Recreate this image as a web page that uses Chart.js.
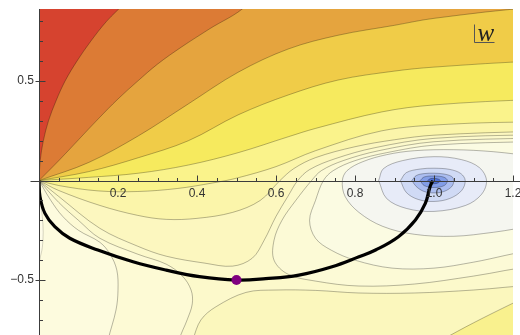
<!DOCTYPE html>
<html>
<head>
<meta charset="utf-8">
<script src="https://cdn.jsdelivr.net/npm/chart.js@4.4.1/dist/chart.umd.min.js"></script>
<style>
  html, body { margin: 0; padding: 0; background: #fff; }
  canvas { display: block; }
</style>
</head>
<body>
<canvas id="plot" width="520" height="335"></canvas>
<script>
// Contour plot of |f(w)| in the w-plane with the descent path through the saddle

const xRange = [0, 1.2];
const yRange = [-0.776, 0.862];
const xTickLabels = [0.2, 0.4, 0.6, 0.8, 1.0, 1.2];
const yTickLabels = [-0.5, 0.5];

// level lines fanning out of the origin (highest first)
const lineA = [[0,0],[0.003,0.1],[0.011,0.2],[0.024,0.3],[0.043,0.4],[0.066,0.5],[0.096,0.6],[0.131,0.7],[0.171,0.8],[0.22,0.9]];
const lineB = [[0,0],[0.05,0.1],[0.1,0.205],[0.15,0.31],[0.2,0.41],[0.25,0.5],[0.3,0.585],[0.36,0.67],[0.43,0.76],[0.525,0.88]];
const lineC = [[0,0],[0.126,0.091],[0.252,0.225],[0.378,0.385],[0.504,0.544],[0.631,0.661],[0.757,0.73],[0.9,0.78],[1.0,0.815],[1.26,0.87]];
const lineD = [[0,0],[0.126,0.045],[0.252,0.115],[0.378,0.2],[0.504,0.33],[0.631,0.43],[0.757,0.505],[0.9,0.55],[1.0,0.57],[1.26,0.6]];
const lineE = [[0,0],[0.126,0.016],[0.252,0.037],[0.378,0.078],[0.504,0.14],[0.631,0.22],[0.7,0.262],[0.868,0.345],[1.0,0.38],[1.26,0.407]];
const lineF = [[0,0],[0.05,-0.025],[0.15,-0.052],[0.25,-0.055],[0.35,-0.04],[0.44,-0.012],[0.5,0.012],[0.6,0.07],[0.7,0.15],[0.868,0.25],[1.037,0.283],[1.26,0.295]];
const lineG = [[0,0],[0.05,-0.05],[0.154,-0.125],[0.25,-0.175],[0.322,-0.195],[0.4,-0.19],[0.49,-0.16],[0.56,-0.1],[0.61,0],[0.645,0.06],[0.7,0.115],[0.8,0.17],[0.9,0.205],[1.0,0.228],[1.26,0.247]];
const lineH = [[0,0],[0.05,-0.08],[0.154,-0.24],[0.25,-0.33],[0.322,-0.38],[0.42,-0.415],[0.49,-0.43],[0.54,-0.39],[0.57,-0.3],[0.6,-0.18],[0.63,-0.08],[0.655,0],[0.685,0.055],[0.75,0.11],[0.85,0.165],[1.0,0.212],[1.26,0.23]];
// left valley
const lineJ = [[0,0],[0.05,-0.11],[0.1,-0.2],[0.154,-0.29],[0.25,-0.37],[0.322,-0.42],[0.363,-0.48],[0.385,-0.55],[0.388,-0.62],[0.375,-0.7],[0.355,-0.8]];
const lineK = [[0,0],[0.03,-0.1],[0.06,-0.18],[0.1,-0.25],[0.154,-0.31],[0.18,-0.37],[0.197,-0.45],[0.2,-0.55],[0.195,-0.65],[0.175,-0.8]];
const lineL = [[0,0],[0.002,-0.06],[0.006,-0.14],[0.01,-0.22],[0.01,-0.3],[0.005,-0.37],[-0.01,-0.44]];
// below the saddle
const lineM = [[0.389,-0.8],[0.41,-0.7],[0.448,-0.634],[0.524,-0.562],[0.6,-0.55],[0.7,-0.552],[0.81,-0.565],[0.95,-0.565],[1.1,-0.55],[1.26,-0.525]];
const lineQ = [[1.02,-0.8],[1.1,-0.715],[1.2,-0.616],[1.26,-0.56]];
// valley around the zero at w = 1 (outer to inner)
const ringI = [[1.26,0.215],[1.0,0.195],[0.86,0.15],[0.77,0.1],[0.715,0.05],[0.69,0],[0.65,-0.1],[0.615,-0.2],[0.595,-0.3],[0.595,-0.4],[0.63,-0.47],[0.7,-0.505],[0.81,-0.53],[0.95,-0.52],[1.1,-0.48],[1.26,-0.43]];
const ring6 = [[1.26,0.197],[1.0,0.178],[0.88,0.14],[0.8,0.1],[0.745,0.05],[0.72,0],[0.7,-0.1],[0.685,-0.2],[0.7,-0.29],[0.74,-0.35],[0.8,-0.4],[0.894,-0.44],[1.0,-0.44],[1.1,-0.41],[1.26,-0.35]];
const ring5 = [[1.26,0.12],[1.15,0.145],[1.05,0.155],[0.95,0.15],[0.88,0.13],[0.82,0.095],[0.78,0.05],[0.768,0],[0.775,-0.08],[0.81,-0.16],[0.87,-0.23],[0.95,-0.27],[1.05,-0.28],[1.15,-0.26],[1.26,-0.23]];
const ring4 = [[0.86,0],[0.872,0.06],[0.92,0.1],[1.0,0.12],[1.07,0.105],[1.115,0.065],[1.133,0],[1.12,-0.07],[1.08,-0.125],[1.0,-0.155],[0.93,-0.14],[0.88,-0.09],[0.86,0]];
const ring3 = [[0.915,0],[0.93,0.04],[0.965,0.058],[1.0,0.062],[1.04,0.056],[1.068,0.035],[1.079,0],[1.07,-0.05],[1.04,-0.09],[1.0,-0.105],[0.96,-0.095],[0.93,-0.06],[0.915,0]];
const ring2 = [[0.944,0],[0.955,0.025],[0.975,0.035],[1.0,0.037],[1.025,0.033],[1.045,0.02],[1.05,0],[1.045,-0.03],[1.025,-0.055],[1.0,-0.062],[0.975,-0.055],[0.955,-0.03],[0.944,0]];
const ring1 = [[0.965,0],[0.975,0.018],[1.0,0.023],[1.025,0.017],[1.034,0],[1.026,-0.025],[1.0,-0.035],[0.975,-0.025],[0.965,0]];
const ring0 = [[0.984,0],[0.99,0.009],[1.0,0.011],[1.01,0.008],[1.016,0],[1.01,-0.012],[1.0,-0.016],[0.99,-0.012],[0.984,0]];

// path from 0 to 1 through the saddle point
const pathW = [[0,0],[0.0025,-0.081],[0.015,-0.165],[0.04,-0.232],[0.078,-0.29],[0.149,-0.349],[0.238,-0.408],[0.322,-0.45],[0.406,-0.483],[0.5,-0.5],[0.574,-0.493],[0.658,-0.475],[0.742,-0.433],[0.81,-0.383],[0.852,-0.349],[0.91,-0.282],[0.953,-0.198],[0.978,-0.115],[0.99,-0.031],[0.997,0]];
const saddle = [[0.5,-0.5]];

const LINE = 'rgba(0,0,0,0.28)';

// closing corners, all outside the plot so only the level line shows
const last = pts => pts[pts.length - 1];
const toTop = pts => pts.concat([[last(pts)[0] + 0.06, 1.05], [-0.2, 1.2], [-0.2, 0]]);
const toTopRight = pts => pts.concat([[1.45, last(pts)[1]], [1.45, 1.2], [-0.2, 1.2], [-0.2, 0]]);
const toBottomLeft = pts => pts.concat([[last(pts)[0] - 0.02, -1.0], [-0.2, -1.0], [-0.2, 0]]);
const toBottomRight = pts => pts.concat([[1.45, last(pts)[1]], [1.45, -1.0], [pts[0][0] - 0.03, -1.0]]);
const toRightEdge = pts => pts.concat([[1.45, last(pts)[1]], [1.45, pts[0][1]]]);

const datasets = [];
function region(points, color, stroke, tension) {
  datasets.push({
    data: points,
    fill: 'shape',
    backgroundColor: color,
    borderColor: stroke || LINE,
    borderWidth: stroke === 'none' ? 0 : 1,
    tension: tension === undefined ? 0.35 : tension,
    pointRadius: 0
  });
}

region([[-0.2,-1.0],[1.45,-1.0],[1.45,1.2],[-0.2,1.2]], '#fcf9cb', 'none', 0);
region(toTopRight(lineH), '#fcf7bf');
region(toBottomRight(lineM), '#fbf7bd');
region(toTopRight(lineG), '#fbf5aa');
region(toBottomRight(lineQ), '#f9f18e');
region(toTopRight(lineF), '#faf38b');
region(toTopRight(lineE), '#f6ea5e');
region(toTopRight(lineD), '#f0cc48');
region(toTopRight(lineC), '#e5a43e');
region(toTop(lineB), '#dc7b35');
region(toTop(lineA), '#d6432f');
region(toBottomLeft(lineJ), '#fdfad5');
region(toBottomLeft(lineK), '#fdfbde');
region(lineL.concat([[-0.2,-0.44],[-0.2,0]]), '#fefce8', 'rgba(0,0,0,0.16)');
region(toRightEdge(ringI), '#fcfad6');
region(toRightEdge(ring6), '#fbfbe2');
region(toRightEdge(ring5), '#f5f6f0');
region(ring4, '#e7ebf8');
region(ring3, '#d0daf5');
region(ring2, '#abbdf0');
region(ring1, '#829de7');
region(ring0, '#4f70d6');

datasets.push({
  data: pathW, borderColor: '#000', borderWidth: 3.2, tension: 0.4,
  fill: false, pointRadius: 0
});
datasets.push({
  data: saddle, showLine: false, pointRadius: 5, pointHoverRadius: 5,
  pointBackgroundColor: '#800080', pointBorderWidth: 0
});
datasets.forEach((d, i) => { d.order = datasets.length - i; });

const tickFont = { family: '"Liberation Sans", Arial, sans-serif', size: 12 };
const fmt = v => (v < 0 ? '\u2212' : '') + Math.abs(v).toFixed(1);

// Mathematica-style axes: ticks point into the plot, minor ticks between labels
const axesPlugin = {
  id: 'mmaAxes',
  afterDatasetsDraw(chart) {
    const { ctx, chartArea: area, scales: { x, y } } = chart;
    const ax = Math.round(x.getPixelForValue(0)) + 0.5;
    const ay = Math.round(y.getPixelForValue(0)) + 0.5;
    ctx.save();
    ctx.strokeStyle = '#3c3c3c';
    ctx.lineWidth = 1;
    ctx.beginPath();
    ctx.moveTo(ax - 9, ay); ctx.lineTo(chart.width, ay);
    ctx.moveTo(ax, area.top); ctx.lineTo(ax, area.bottom);
    for (let i = 1; i <= 24; i++) {
      const p = Math.round(x.getPixelForValue(i * 0.05)) + 0.5;
      ctx.moveTo(p, ay); ctx.lineTo(p, ay - (i % 4 === 0 ? 6 : 3.5));
    }
    for (let i = -7; i <= 8; i++) {
      if (i === 0) continue;
      const p = Math.round(y.getPixelForValue(i * 0.1)) + 0.5;
      ctx.moveTo(ax, p); ctx.lineTo(ax + (i % 5 === 0 ? 6 : 3.5), p);
    }
    for (const v of yTickLabels) {
      const p = Math.round(y.getPixelForValue(v)) + 0.5;
      ctx.moveTo(ax - 4, p); ctx.lineTo(ax, p);
    }
    ctx.stroke();

    // plane label
    const lx = area.right - 38.5, ly = area.top + 33.5;
    ctx.strokeStyle = '#555';
    ctx.beginPath();
    ctx.moveTo(lx, ly - 18); ctx.lineTo(lx, ly); ctx.lineTo(lx + 20, ly);
    ctx.stroke();
    ctx.fillStyle = '#222';
    ctx.font = 'italic 25px "Liberation Serif", "DejaVu Serif", serif';
    ctx.textBaseline = 'alphabetic';
    ctx.fillText('w', lx + 3, ly - 2);
    ctx.restore();
  }
};

new Chart(document.getElementById('plot'), {
  type: 'line',
  data: { datasets },
  plugins: [axesPlugin],
  options: {
    responsive: false,
    animation: false,
    devicePixelRatio: 1,
    events: [],
    layout: { padding: { left: 0, right: 7, top: 9, bottom: 0 }, autoPadding: false },
    elements: { line: { capBezierPoints: false } },
    plugins: { legend: { display: false }, tooltip: { enabled: false } },
    scales: {
      x: {
        type: 'linear', min: xRange[0], max: xRange[1],
        position: { y: 0 },
        grid: { display: false, drawTicks: false },
        border: { display: false },
        ticks: {
          z: 1, stepSize: 0.2, autoSkip: false, maxRotation: 0, padding: 6,
          font: tickFont, color: '#333',
          callback: v => xTickLabels.some(t => Math.abs(t - v) < 1e-6) ? fmt(v) : ''
        },
        afterFit: s => { s.paddingLeft = 0; s.paddingRight = 0; }
      },
      y: {
        type: 'linear', min: yRange[0], max: yRange[1],
        position: 'left',
        grid: { display: false, drawTicks: false },
        border: { display: false },
        ticks: {
          z: 1, stepSize: 0.5, includeBounds: false, padding: 5,
          font: tickFont, color: '#333',
          callback: v => yTickLabels.some(t => Math.abs(t - v) < 1e-6) ? fmt(v) : ''
        },
        afterFit: s => { s.width = 39; s.paddingTop = 0; s.paddingBottom = 0; }
      }
    }
  }
});
</script>
</body>
</html>
